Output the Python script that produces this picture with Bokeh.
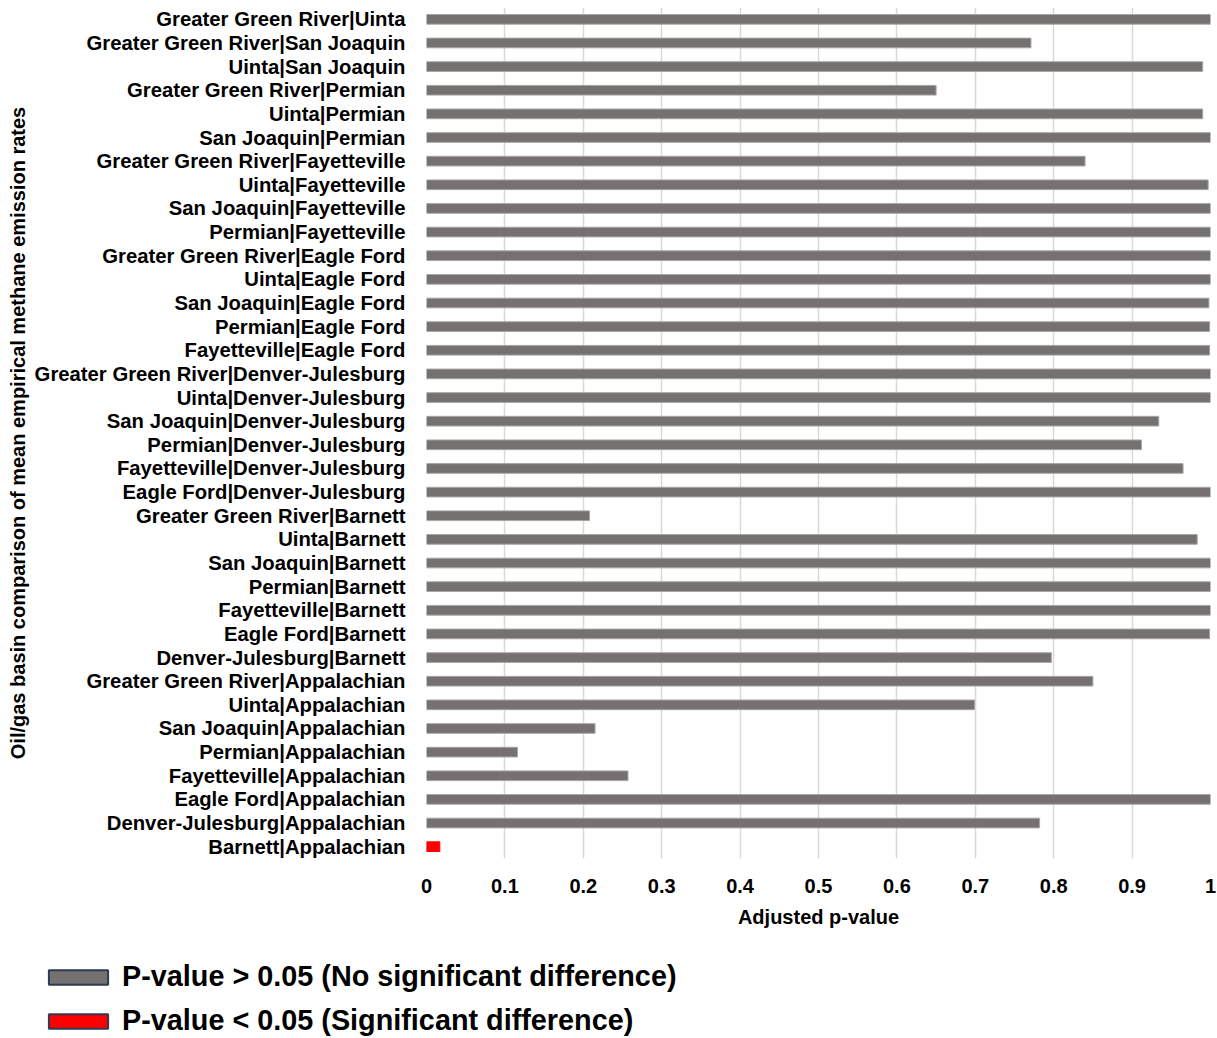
from bokeh.plotting import figure
from bokeh.layouts import column
from bokeh.models import (ColumnDataSource, FactorRange, Range1d, FixedTicker,
                          Legend, LegendItem)
from bokeh.embed import file_html
from bokeh.resources import INLINE

categories = [
    "Greater Green River|Uinta",
    "Greater Green River|San Joaquin",
    "Uinta|San Joaquin",
    "Greater Green River|Permian",
    "Uinta|Permian",
    "San Joaquin|Permian",
    "Greater Green River|Fayetteville",
    "Uinta|Fayetteville",
    "San Joaquin|Fayetteville",
    "Permian|Fayetteville",
    "Greater Green River|Eagle Ford",
    "Uinta|Eagle Ford",
    "San Joaquin|Eagle Ford",
    "Permian|Eagle Ford",
    "Fayetteville|Eagle Ford",
    "Greater Green River|Denver-Julesburg",
    "Uinta|Denver-Julesburg",
    "San Joaquin|Denver-Julesburg",
    "Permian|Denver-Julesburg",
    "Fayetteville|Denver-Julesburg",
    "Eagle Ford|Denver-Julesburg",
    "Greater Green River|Barnett",
    "Uinta|Barnett",
    "San Joaquin|Barnett",
    "Permian|Barnett",
    "Fayetteville|Barnett",
    "Eagle Ford|Barnett",
    "Denver-Julesburg|Barnett",
    "Greater Green River|Appalachian",
    "Uinta|Appalachian",
    "San Joaquin|Appalachian",
    "Permian|Appalachian",
    "Fayetteville|Appalachian",
    "Eagle Ford|Appalachian",
    "Denver-Julesburg|Appalachian",
    "Barnett|Appalachian",
]

p_values = [
    1.0, 0.771, 0.990, 0.650, 0.990, 1.0, 0.840, 0.997, 1.0, 1.0,
    1.0, 1.0, 0.998, 0.999, 0.999, 1.0, 1.0, 0.934, 0.912, 0.965,
    1.0, 0.208, 0.983, 1.0, 1.0, 1.0, 0.999, 0.797, 0.850, 0.699,
    0.215, 0.116, 0.257, 1.0, 0.782, 0.017,
]

x_ticks = [0, 0.1, 0.2, 0.3, 0.4, 0.5, 0.6, 0.7, 0.8, 0.9, 1]
x_tick_labels = ["0", "0.1", "0.2", "0.3", "0.4", "0.5", "0.6", "0.7", "0.8", "0.9", "1"]

legend_labels = ["P-value > 0.05 (No significant difference)",
                 "P-value < 0.05 (Significant difference)"]

GRAY = "#767171"
RED = "#ff0000"
FONT = "Liberation Sans"

ns_src = ColumnDataSource(dict(
    cat=[c for c, v in zip(categories, p_values) if v >= 0.05],
    val=[v for v in p_values if v >= 0.05]))
sg_src = ColumnDataSource(dict(
    cat=[c for c, v in zip(categories, p_values) if v < 0.05],
    val=[v for v in p_values if v < 0.05]))

p = figure(width=1216, height=930, output_backend="svg", toolbar_location=None,
           y_range=FactorRange(factors=list(reversed(categories)), range_padding=0),
           x_range=Range1d(0, 1),
           min_border_left=426, min_border_right=6, min_border_top=7,
           min_border_bottom=70)
p.frame_align = False

p.hbar(y="cat", right="val", height=0.41, fill_color=GRAY,
       line_color="#a6a6a6", line_width=1, source=ns_src)
p.hbar(y="cat", right="val", height=0.41, fill_color=RED,
       line_color=RED, line_width=1, source=sg_src)

p.outline_line_color = None
p.background_fill_color = "white"

# x axis
p.xaxis.ticker = FixedTicker(ticks=x_ticks)
p.xaxis.major_label_overrides = {t: l for t, l in zip(x_ticks, x_tick_labels)}
p.xaxis.axis_line_color = None
p.xaxis.major_tick_line_color = None
p.xaxis.minor_tick_line_color = None
p.xaxis.major_label_text_font = FONT
p.xaxis.major_label_text_font_style = "bold"
p.xaxis.major_label_text_font_size = "20px"
p.xaxis.major_label_text_color = "black"
p.xaxis.major_label_standoff = 14
p.xaxis.axis_label = "Adjusted p-value"
p.xaxis.axis_label_text_font = FONT
p.xaxis.axis_label_text_font_style = "bold"
p.xaxis.axis_label_text_font_size = "20px"
p.xaxis.axis_label_text_color = "black"
p.xaxis.axis_label_standoff = 10

# y axis
p.yaxis.axis_line_color = None
p.yaxis.major_tick_line_color = None
p.yaxis.minor_tick_line_color = None
p.yaxis.major_label_text_font = FONT
p.yaxis.major_label_text_font_style = "bold"
p.yaxis.major_label_text_font_size = "20.3px"
p.yaxis.major_label_text_color = "black"
p.yaxis.major_label_standoff = 15
p.yaxis.axis_label = "Oil/gas basin comparison of mean empirical methane emission rates"
p.yaxis.axis_label_text_font = FONT
p.yaxis.axis_label_text_font_style = "bold"
p.yaxis.axis_label_text_font_size = "20px"
p.yaxis.axis_label_text_color = "black"
p.yaxis.axis_label_standoff = 3

p.xgrid.grid_line_color = "#d9d9d9"
p.xgrid.grid_line_width = 1.5
p.ygrid.grid_line_color = None

# legend panel (its own figure so the legend is not clipped by the main frame);
# its y range holds no basin pair, so the bars themselves are not drawn here
lp = figure(width=1216, height=107, output_backend="svg", toolbar_location=None,
            x_range=Range1d(0, 1), y_range=FactorRange(factors=["legend"]),
            x_axis_type=None, y_axis_type=None,
            min_border_left=0, min_border_right=0, min_border_top=0,
            min_border_bottom=0)
lp.frame_align = False
lp.outline_line_color = None
lp.xgrid.grid_line_color = None
lp.ygrid.grid_line_color = None

lg1 = lp.hbar(y="cat", right="val", height=0.4, fill_color=GRAY,
              line_color="#2e3b55", line_width=2, source=ns_src)
lg2 = lp.hbar(y="cat", right="val", height=0.4, fill_color=RED,
              line_color="#2e3b55", line_width=2, source=sg_src)

legend = Legend(items=[LegendItem(label=legend_labels[0], renderers=[lg1]),
                       LegendItem(label=legend_labels[1], renderers=[lg2])],
                location=(41, 0), orientation="vertical",
                label_text_font=FONT, label_text_font_style="bold",
                label_text_font_size="28.8px", label_text_color="black",
                glyph_width=74, glyph_height=18, label_standoff=7, spacing=11,
                padding=0, margin=0, border_line_alpha=0, background_fill_alpha=0)
lp.add_layout(legend, "center")

layout = column(p, lp, spacing=0)
open("out.html", "w").write(file_html(layout, INLINE))
